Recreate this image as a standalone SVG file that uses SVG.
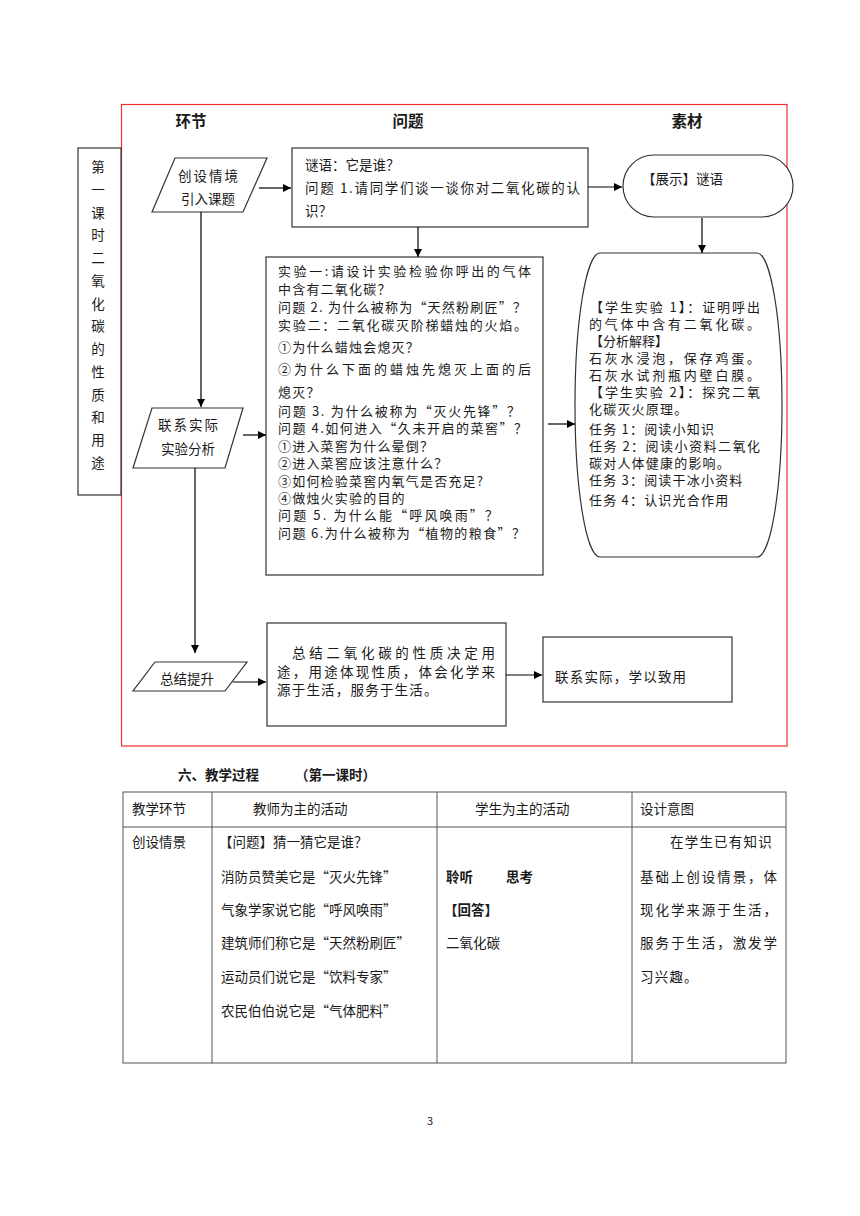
<svg xmlns="http://www.w3.org/2000/svg" width="860" height="1216" viewBox="0 0 860 1216">
<defs>
<marker id="ah" viewBox="0 0 10 10" refX="10" refY="5" markerWidth="8" markerHeight="8" markerUnits="userSpaceOnUse" orient="auto">
<path d="M0,0 L10,5 L0,10 Z" fill="#000"/>
</marker>
<style>
text{font-family:"Noto Sans CJK SC","Liberation Sans",sans-serif;font-size:13.5px;fill:#1a1a1a}
.h{font-size:15.5px;font-weight:bold}
.b{font-weight:bold}
.s{font-size:13px}
.box{fill:#fff;stroke:#333;stroke-width:1.2}
.con{fill:none;stroke:#000;stroke-width:1.2;marker-end:url(#ah)}
.tbl{fill:none;stroke:#555;stroke-width:1}
.ls{letter-spacing:1.2px}
</style>
</defs>
<rect width="860" height="1216" fill="#fff"/>

<rect x="121.5" y="104.5" width="665.5" height="641.5" fill="none" stroke="#ee3030" stroke-width="1.2"/>

<text class="h" x="191" y="127" text-anchor="middle">环节</text>
<text class="h" x="408" y="127" text-anchor="middle">问题</text>
<text class="h" x="687" y="127" text-anchor="middle">素材</text>

<g id="side">
<rect class="box" x="78" y="148" width="43" height="347"/>
<text x="98" y="172" text-anchor="middle">第</text>
<text x="98" y="195" text-anchor="middle">一</text>
<text x="98" y="218" text-anchor="middle">课</text>
<text x="98" y="240" text-anchor="middle">时</text>
<text x="98" y="263" text-anchor="middle">二</text>
<text x="98" y="286" text-anchor="middle">氧</text>
<text x="98" y="309" text-anchor="middle">化</text>
<text x="98" y="331" text-anchor="middle">碳</text>
<text x="98" y="354" text-anchor="middle">的</text>
<text x="98" y="377" text-anchor="middle">性</text>
<text x="98" y="400" text-anchor="middle">质</text>
<text x="98" y="422" text-anchor="middle">和</text>
<text x="98" y="445" text-anchor="middle">用</text>
<text x="98" y="468" text-anchor="middle">途</text>
</g>

<g id="p1">
<polygon class="box" points="175,158 267,158 243,212 152,212"/>
<text x="209" y="181" text-anchor="middle" letter-spacing="2">创设情境</text>
<text x="208" y="204" text-anchor="middle">引入课题</text>
</g>

<g id="q1">
<rect class="box" x="292" y="148" width="296" height="79"/>
<text x="305" y="170">谜语：它是谁？</text>
<text x="305" y="193" textLength="275" lengthAdjust="spacing">问题 1.请同学们谈一谈你对二氧化碳的认</text>
<text x="305" y="216">识？</text>
</g>

<g id="m1">
<rect class="box" x="623" y="155" width="170" height="62" rx="31" ry="31"/>
<text x="642" y="184">【展示】谜语</text>
</g>

<g id="p2">
<polygon class="box" points="152,408 243,408 225,468 133,468"/>
<text x="189" y="430" text-anchor="middle" letter-spacing="2">联系实际</text>
<text x="188" y="454" text-anchor="middle">实验分析</text>
</g>

<g id="q2">
<rect class="box" x="266" y="257" width="277" height="318"/>
<text class="s" x="278" y="276" textLength="253" lengthAdjust="spacing">实验一:请设计实验检验你呼出的气体</text>
<text class="s ls" x="278" y="294">中含有二氧化碳？</text>
<text class="s" x="278" y="312" textLength="248" lengthAdjust="spacing">问题 2. 为什么被称为“天然粉刷匠”？</text>
<text class="s" x="278" y="330" textLength="249" lengthAdjust="spacing">实验二：二氧化碳灭阶梯蜡烛的火焰。</text>
<text class="s ls" x="278" y="352">①为什么蜡烛会熄灭？</text>
<text class="s" x="278" y="374" textLength="253" lengthAdjust="spacing">②为什么下面的蜡烛先熄灭上面的后</text>
<text class="s ls" x="278" y="397">熄灭？</text>
<text class="s" x="278" y="416" textLength="242" lengthAdjust="spacing">问题 3. 为什么被称为“灭火先锋”？</text>
<text class="s" x="278" y="433.4" textLength="249" lengthAdjust="spacing">问题 4.如何进入“久未开启的菜窖”？</text>
<text class="s ls" x="278" y="450.8">①进入菜窖为什么晕倒？</text>
<text class="s ls" x="278" y="468.2">②进入菜窖应该注意什么？</text>
<text class="s ls" x="278" y="485.6">③如何检验菜窖内氧气是否充足?</text>
<text class="s ls" x="278" y="503">④做烛火实验的目的</text>
<text class="s" x="278" y="520.4" textLength="220" lengthAdjust="spacing">问题 5. 为什么能“呼风唤雨”？</text>
<text class="s" x="278" y="537.8" textLength="247" lengthAdjust="spacing">问题 6.为什么被称为“植物的粮食”？</text>
</g>

<g id="m2">
<path class="box" d="M600,253 H757 A25,152 0 0 1 757,557 H600 A25,152 0 0 1 600,253 Z"/>
<text class="s" x="590" y="312" textLength="170" lengthAdjust="spacing">【学生实验 1】：证明呼出</text>
<text class="s" x="589" y="329" textLength="171" lengthAdjust="spacing">的气体中含有二氧化碳。</text>
<text class="s" x="590" y="346">【分析解释】</text>
<text class="s" x="589" y="363" textLength="171" lengthAdjust="spacing">石灰水浸泡，保存鸡蛋。</text>
<text class="s" x="589" y="380" textLength="171" lengthAdjust="spacing">石灰水试剂瓶内壁白膜。</text>
<text class="s" x="590" y="397" textLength="170" lengthAdjust="spacing">【学生实验 2】：探究二氧</text>
<text class="s ls" x="589" y="414">化碳灭火原理。</text>
<text class="s ls" x="589" y="434">任务 1：阅读小知识</text>
<text class="s" x="589" y="451" textLength="171" lengthAdjust="spacing">任务 2：阅读小资料二氧化</text>
<text class="s ls" x="589" y="468">碳对人体健康的影响。</text>
<text class="s ls" x="589" y="485">任务 3：阅读干冰小资料</text>
<text class="s ls" x="589" y="505">任务 4：认识光合作用</text>
</g>

<g id="p3">
<polygon class="box" points="155,662 247,662 225,691 133,691"/>
<text x="187" y="684" text-anchor="middle">总结提升</text>
</g>

<g id="q3">
<rect class="box" x="267" y="623" width="239" height="103"/>
<text x="292" y="658" textLength="203" lengthAdjust="spacing">总结二氧化碳的性质决定用</text>
<text x="277" y="677" textLength="218" lengthAdjust="spacing">途，用途体现性质，体会化学来</text>
<text x="277" y="695" class="ls">源于生活，服务于生活。</text>
</g>

<g id="m3">
<rect class="box" x="543" y="637" width="189" height="65"/>
<text x="555" y="682" class="ls">联系实际，学以致用</text>
</g>

<g id="connectors">
<path class="con" d="M259,188 H291"/>
<path class="con" d="M588,187 H622"/>
<path class="con" d="M702,218 V253"/>
<path class="con" d="M418,227 V257"/>
<path class="con" d="M201,212 V407"/>
<path class="con" d="M243,435 H266"/>
<path class="con" d="M548,424 H575"/>
<path class="con" d="M195,468 V653"/>
<path class="con" d="M233,682 H266"/>
<path class="con" d="M506,675 H542"/>
</g>

<g id="section">
<text x="178" y="780" class="b">六、教学过程</text>
<text x="295" y="780" class="b">（第一课时）</text>
</g>

<g id="table">
<rect class="tbl" x="123" y="792" width="663" height="271"/>
<line class="tbl" x1="123" y1="827" x2="786" y2="827"/>
<line class="tbl" x1="212" y1="792" x2="212" y2="1063"/>
<line class="tbl" x1="437" y1="792" x2="437" y2="1063"/>
<line class="tbl" x1="632" y1="792" x2="632" y2="1063"/>
<text x="132" y="814">教学环节</text>
<text x="253" y="814">教师为主的活动</text>
<text x="475" y="814">学生为主的活动</text>
<text x="640" y="814">设计意图</text>
<text x="132" y="847">创设情景</text>
<text x="219" y="847">【问题】猜一猜它是谁？</text>
<text x="221" y="882">消防员赞美它是“灭火先锋”</text>
<text x="221" y="915">气象学家说它能“呼风唤雨”</text>
<text x="221" y="948">建筑师们称它是“天然粉刷匠”</text>
<text x="221" y="982">运动员们说它是“饮料专家”</text>
<text x="221" y="1016">农民伯伯说它是“气体肥料”</text>
<text x="446" y="882" class="b">聆听</text>
<text x="506" y="882" class="b">思考</text>
<text x="444" y="915" class="b">【回答】</text>
<text x="446" y="948">二氧化碳</text>
<text x="670" y="847" class="ls">在学生已有知识</text>
<text x="640" y="882" textLength="137" lengthAdjust="spacing">基础上创设情景，体</text>
<text x="640" y="915" textLength="137" lengthAdjust="spacing">现化学来源于生活，</text>
<text x="640" y="948" textLength="137" lengthAdjust="spacing">服务于生活，激发学</text>
<text x="640" y="982" class="ls">习兴趣。</text>
</g>

<text x="430" y="1125" text-anchor="middle" style="font-size:11px">3</text>
</svg>
